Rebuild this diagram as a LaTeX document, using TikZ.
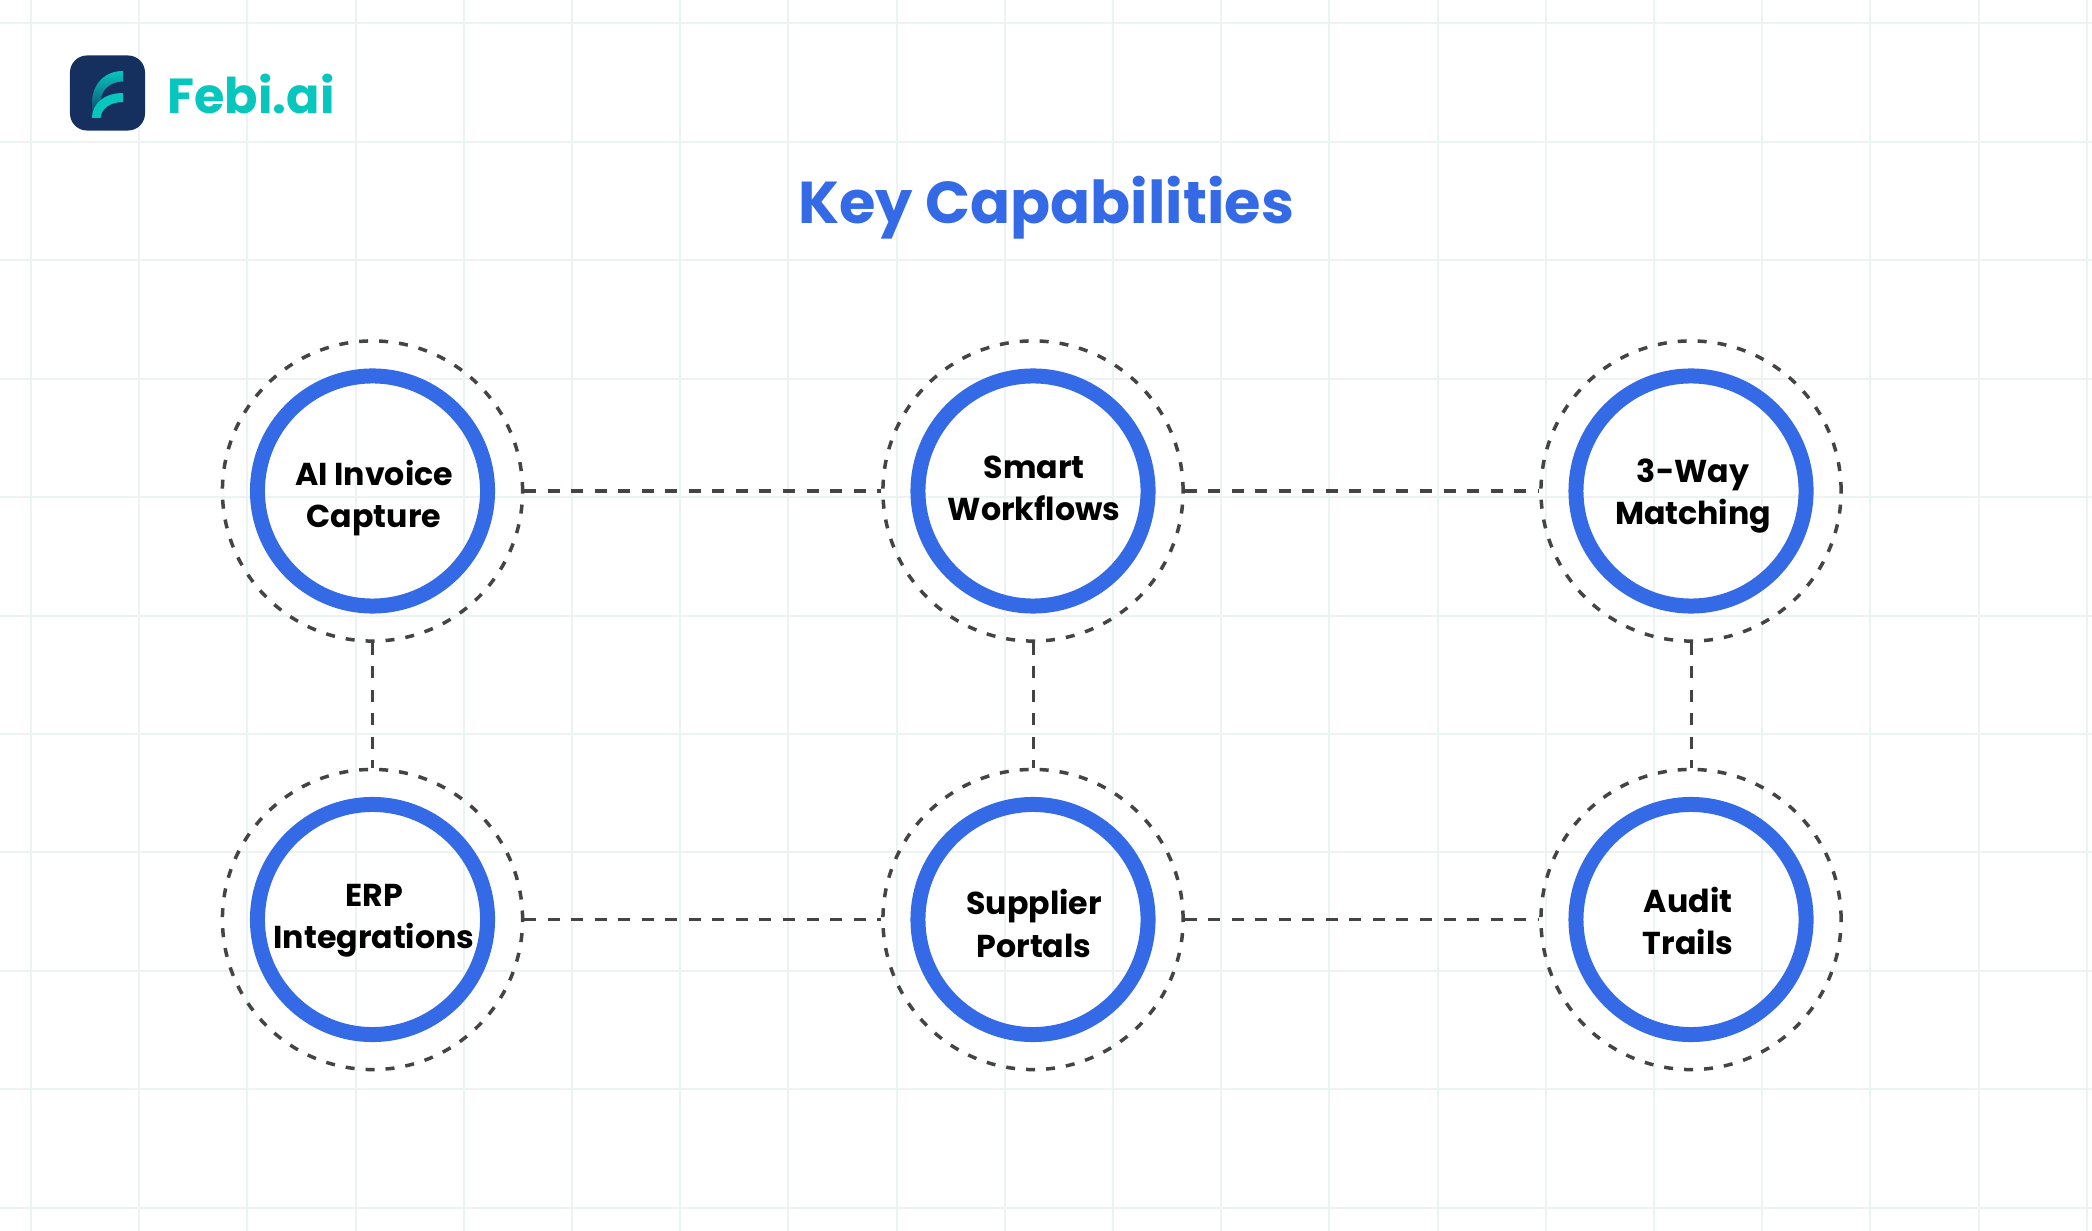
\documentclass[tikz,border=0pt]{standalone}
\usepackage{fontspec}
\setmainfont{Poppins}
\begin{document}
\begin{tikzpicture}[x = 0.01cm, y = -0.01cm,
  ring/.style = {circle, draw = ringBlue, line width = 0.15cm, minimum size = 2.30cm, inner sep = 0pt},
  halo/.style = {circle, draw = dashGray, line width = 0.035cm, dash pattern = on 0.09cm off 0.11cm, minimum size = 3.00cm, inner sep = 0pt},
  link/.style = {draw = dashGray, line width = 0.03cm, dash pattern = on 0.12cm off 0.115cm},
  caption/.style = {font = \bfseries\fontsize{9}{12}\selectfont, align = center, text = black},
  gridline/.style = {draw = gridGray, line width = 0.02cm}
  ]
  \definecolor{ringBlue}{HTML}{356AE6}
  \definecolor{dashGray}{HTML}{444444}
  \definecolor{gridGray}{HTML}{EDF2F2}
  \definecolor{logoNavy}{HTML}{15305F}
  \definecolor{logoTeal}{HTML}{07C6BE}

  \useasboundingbox (0, 0) rectangle (2092, 1231);

  % background grid
  \foreach \i in {0, ..., 19} {
    \draw[gridline] ({31 + 108.2 * \i}, 0) -- ({31 + 108.2 * \i}, 1231);
  }
  \foreach \i in {0, ..., 10} {
    \draw[gridline] (0, {23.5 + 118.4 * \i}) -- (2092, {23.5 + 118.4 * \i});
  }

  % logo
  \node[fill = logoNavy, rounded corners = 0.17cm, minimum size = 0.75cm, inner sep = 0pt] (logo) at (107.5, 93) {};
  \shade[top color = logoTeal, bottom color = logoNavy, middle color = logoTeal!55!logoNavy] (123, 71) .. controls (104, 71) and (92, 85) .. (92, 103) -- (92, 118) -- (100.5, 118) -- (100.5, 103) .. controls (100.5, 90) and (110, 81.5) .. (123, 81.5) -- cycle;
  \fill[logoTeal] (123, 93) .. controls (105, 93) and (92, 103) .. (92, 118) -- (100.5, 118) .. controls (101, 109) and (110, 102) .. (123, 102) -- cycle;
  \node[font = \bfseries\fontsize{14}{16}\selectfont, text = logoTeal] (brand) at (251, 94) {Febi.ai};

  \node[font = \bfseries\fontsize{16.8}{20}\selectfont, text = ringBlue] (title) at (1046, 208) {Key Capabilities};

  % outer dashed circles
  \node[halo] (haloA) at (372.5, 491) {};
  \node[halo] (haloB) at (1033, 491) {};
  \node[halo] (haloC) at (1691, 491) {};
  \node[halo] (haloD) at (372.5, 919.5) {};
  \node[halo] (haloE) at (1033, 919.5) {};
  \node[halo] (haloF) at (1691, 919.5) {};

  % blue rings
  \node[ring] (ringA) at (haloA) {};
  \node[ring] (ringB) at (haloB) {};
  \node[ring] (ringC) at (haloC) {};
  \node[ring] (ringD) at (haloD) {};
  \node[ring] (ringE) at (haloE) {};
  \node[ring] (ringF) at (haloF) {};

  % labels
  \node[caption] (textA) at (374, 498) {AI Invoice\\Capture};
  \node[caption] (textB) at (1034, 488.5) {Smart\\Workflows};
  \node[caption] (textC) at (1693, 496) {3-Way\\Matching};
  \node[caption] (textD) at (374, 920.5) {ERP\\Integrations};
  \node[caption] (textE) at (1034, 923.5) {Supplier\\Portals};
  \node[caption] (textF) at (1688, 921) {Audit\\Trails};

  % connectors
  \draw[link] (haloA) -- (haloB);
  \draw[link] (haloB) -- (haloC);
  \draw[link] (haloD) -- (haloE);
  \draw[link] (haloE) -- (haloF);
  \draw[link] (haloA) -- (haloD);
  \draw[link] (haloB) -- (haloE);
  \draw[link] (haloC) -- (haloF);
\end{tikzpicture}
\end{document}
